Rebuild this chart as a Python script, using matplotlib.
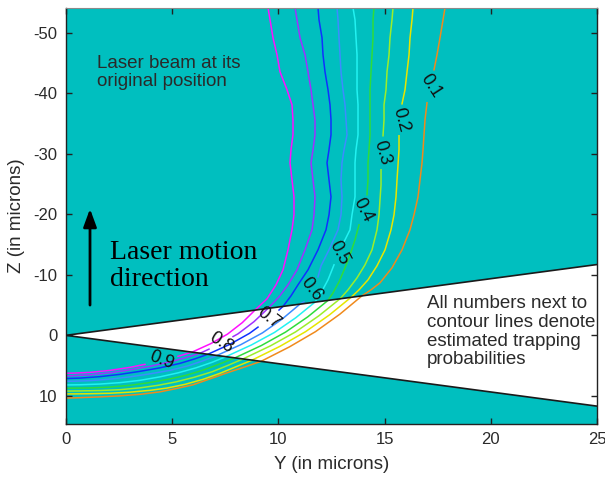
import numpy as np
import matplotlib
matplotlib.use("Agg")
import matplotlib.pyplot as plt
from matplotlib.patches import Polygon

nan = np.nan

# ---------------- data (Y, Z in microns) ----------------
levels = [0.1, 0.2, 0.3, 0.4, 0.5, 0.6, 0.7, 0.8, 0.9]

c01_y = [17.844, 17.750, 17.608, 17.467, 17.326, nan, 16.996, 16.902, 16.855, 16.808, 16.761, 16.667, 16.573,
         16.384, 16.196, 15.819, 15.348, 14.783, 14.360, 13.936, 12.891, 11.747, 10.513, 9.181, 8.427, 7.580,
         6.780, 5.979, 5.132, 4.426, 3.484, 2.542, 1.601, 0.659, 0.0]
c01_z = [-54.13, -52.15, -49.17, -46.36, -43.88, nan, -38.43, -35.62, -33.14, -30.66, -28.51, -25.70, -22.89,
         -19.92, -17.44, -14.13, -11.16, -8.68, -7.52, -6.53, -3.49, -0.61, 1.92, 4.30, 5.21, 6.20,
         7.19, 8.18, 8.84, 9.34, 9.75, 10.00, 10.17, 10.30, 10.38]

c02_y = [16.337, 16.290, 16.196, 16.149, 16.055, 15.960, 15.819, nan, 15.678, 15.678, 15.631, 15.584, 15.537,
         15.443, 15.301, 15.019, 14.642, 14.218, 13.795, 13.418, 12.397, 11.276, 10.066, 8.757, 8.051, 7.250,
         6.450, 5.603, 4.755, 3.955, 3.013, 2.072, 1.130, 0.0]
c02_z = [-54.13, -52.15, -49.17, -46.36, -43.55, -40.58, -38.26, nan, -32.98, -30.66, -28.18, -25.70, -22.89,
         -19.92, -17.44, -14.13, -11.49, -9.17, -7.52, -6.28, -3.36, -0.60, 1.83, 4.10, 5.12, 6.28,
         7.27, 8.10, 8.71, 9.09, 9.39, 9.57, 9.65, 9.69]

c03_y = [15.395, 15.348, 15.254, 15.207, 15.113, 15.066, 14.972, 14.972, 14.925, nan, 14.831, 14.831, 14.783,
         14.736, 14.642, 14.407, 14.077, 13.701, 13.277, 12.900, 11.902, 10.805, 9.619, 8.333, 7.627, 6.874,
         6.026, 5.179, 4.331, 3.484, 2.542, 1.601, 0.659, 0.0]
c03_z = [-54.13, -52.15, -49.17, -46.36, -43.55, -40.58, -38.10, -35.62, -32.98, nan, -27.36, -24.88, -22.40,
         -19.92, -17.44, -14.13, -11.65, -9.50, -7.52, -6.03, -3.22, -0.56, 1.75, 3.90, 4.96, 6.03,
         6.94, 7.69, 8.26, 8.68, 8.98, 9.12, 9.19, 9.21]

c04_y = [14.501, 14.454, 14.454, 14.407, 14.360, 14.313, 14.313, 14.313, 14.313, 14.266, 14.218, 14.218, 14.171,
         nan, 13.795, 13.606, 13.371, 13.136, 12.853, 12.571, 12.335, 11.384, 10.334, 9.195, 7.957, 7.250,
         6.497, 5.650, 4.802, 3.955, 3.013, 2.072, 1.130, 0.0]
c04_z = [-54.13, -52.15, -49.17, -46.36, -43.55, -40.58, -38.10, -35.62, -33.14, -30.66, -28.51, -25.70, -23.22,
         nan, -18.26, -15.79, -13.31, -11.16, -8.84, -7.02, -5.77, -3.06, -0.53, 1.69, 3.72, 4.71,
         5.70, 6.61, 7.27, 7.80, 8.26, 8.55, 8.69, 8.74]

c05_y = [13.512, 13.606, 13.653, 13.701, 13.701, 13.701, 13.748, 13.748, 13.748, 13.653, 13.606, 13.606, 13.606,
         13.465, 13.371, 13.089, nan, 12.618, 12.335, 12.006, 11.723, 10.819, 9.816, 8.724, 7.533, 6.874,
         6.121, 5.273, 4.426, 3.484, 2.542, 1.601, 0.659, 0.0]
c05_z = [-54.13, -52.15, -49.17, -46.36, -43.55, -40.58, -38.10, -35.62, -33.14, -30.66, -28.51, -25.70, -22.89,
         -19.92, -17.44, -15.45, nan, -11.65, -9.17, -7.02, -5.49, -2.91, -0.48, 1.60, 3.52, 4.46,
         5.37, 6.20, 6.86, 7.44, 7.82, 8.05, 8.17, 8.20]

c06_y = [12.759, 12.806, 12.853, 12.900, 12.947, 13.041, 13.136, 13.183, 13.230, 13.089, 12.994, 12.947, 12.994,
         12.947, 12.806, 12.382, 12.006, 11.864, nan, 11.205, 11.017, 10.184, 9.251, 8.230, 7.109, 6.450,
         5.744, 4.896, 3.955, 3.013, 2.072, 1.130, 0.424, 0.0]
c06_z = [-54.13, -52.15, -49.17, -46.36, -43.55, -40.58, -38.10, -35.62, -33.14, -30.66, -28.51, -25.70, -22.89,
         -19.92, -17.44, -14.13, -11.49, -9.67, nan, -5.54, -5.16, -2.71, -0.41, 1.54, 3.32, 4.21,
         5.04, 5.79, 6.36, 6.86, 7.24, 7.49, 7.57, 7.60]

c07_y = [11.864, 11.911, 12.053, 12.100, 12.194, 12.335, 12.429, 12.476, 12.476, 12.382, 12.288, 12.382, 12.476,
         12.382, 12.241, 11.864, 11.394, 10.923, 10.593, 10.217, 10.028, nan, 9.040, 8.639, 7.712, 6.685,
         6.073, 5.367, 4.426, 3.484, 2.542, 1.601, 0.659, 0.0]
c07_z = [-54.13, -52.15, -49.17, -46.36, -43.55, -40.58, -38.10, -35.62, -33.14, -30.66, -28.51, -25.70, -22.89,
         -19.92, -17.44, -14.13, -10.83, -8.35, -6.53, -4.78, -4.18, nan, -1.36, -0.33, 1.49, 3.12,
         3.88, 4.63, 5.37, 5.95, 6.45, 6.83, 7.07, 7.14]

c08_y = [10.782, 10.876, 11.017, 11.252, 11.394, 11.535, 11.629, 11.723, 11.723, 11.629, 11.535, 11.629, 11.723,
         11.676, 11.582, 11.252, 10.876, 10.452, 10.028, 9.510, 8.851, 8.098, 7.863, nan, 6.733, 6.309,
         5.603, 4.896, 3.955, 3.013, 2.072, 1.130, 0.424, 0.0]
c08_z = [-54.13, -52.15, -49.17, -46.36, -43.55, -40.58, -38.10, -35.62, -33.14, -30.66, -28.51, -25.70, -22.89,
         -19.92, -17.44, -14.13, -10.83, -8.35, -6.36, -4.45, -2.26, -0.25, 0.21, nan, 2.28, 2.96,
         3.72, 4.38, 5.12, 5.70, 6.20, 6.53, 6.66, 6.69]

c09_y = [9.510, 9.605, 9.746, 9.934, 10.075, 10.405, 10.640, 10.687, 10.687, 10.593, 10.546, 10.640, 10.734,
         10.734, 10.640, 10.452, 10.217, 9.887, 9.463, 8.898, 8.300, 7.604, 6.817, 5.932, 5.273, nan,
         3.719, 3.013, 2.072, 1.130, 0.424, 0.0]
c09_z = [-54.13, -52.15, -49.17, -46.36, -43.55, -40.58, -38.10, -35.62, -33.14, -30.66, -28.51, -25.70, -22.89,
         -19.92, -17.44, -14.13, -10.83, -8.35, -6.03, -4.17, -2.10, -0.20, 1.37, 2.78, 3.47, nan,
         4.79, 5.29, 5.79, 6.12, 6.23, 6.26]

contour_y = [c01_y, c02_y, c03_y, c04_y, c05_y, c06_y, c07_y, c08_y, c09_y]
contour_z = [c01_z, c02_z, c03_z, c04_z, c05_z, c06_z, c07_z, c08_z, c09_z]

# laser cone (wedge) outline
wedge_y = [0.0, 25.0, 25.0]
wedge_z = [0.0, -11.7, 11.7]

x_ticks = [0, 5, 10, 15, 20, 25]
z_ticks = [-50, -40, -30, -20, -10, 0, 10]

# ---------------- styles ----------------
teal = '#00BFBF'
line_colors = ['#f08a1c', '#e6e600', '#9cee2a', '#2fdc3a', '#22f2f2',
               '#3c8cff', '#1030ff', '#a030ff', '#ff10ff']
label_rot = [-57, -75, -74, -63, -62, -53, -38, -32, -21]
txt_color = '#2a2a2a'

plt.rcParams['font.family'] = ['Liberation Sans', 'DejaVu Sans']
plt.rcParams['axes.unicode_minus'] = False

fig = plt.figure(figsize=(6.05, 4.8), dpi=100)
ax = fig.add_axes([0.1091, 0.1167, 0.8777, 0.8667])
ax.set_facecolor(teal)

# wedge
ax.add_patch(Polygon(np.column_stack([wedge_y, wedge_z]), closed=True,
                     facecolor='white', edgecolor='none', zorder=1))
ax.plot([wedge_y[1], wedge_y[0], wedge_y[2]], [wedge_z[1], wedge_z[0], wedge_z[2]],
        color='#1a1a1a', lw=1.2, zorder=3, solid_capstyle='butt')

# contour lines + inline labels
for lev, ys, zs, col, rot in zip(levels, contour_y, contour_z, line_colors, label_rot):
    ys = np.asarray(ys, float)
    zs = np.asarray(zs, float)
    ax.plot(ys, zs, color=col, lw=1.1, zorder=2)
    k = int(np.where(np.isnan(ys))[0][0])
    ly = 0.5 * (ys[k - 1] + ys[k + 1])
    lz = 0.5 * (zs[k - 1] + zs[k + 1])
    ax.text(ly, lz, f'{lev:.1f}', rotation=rot, rotation_mode='anchor',
            ha='center', va='center', fontsize=13, color='#111111', zorder=4)

ax.set_xlim(0, 25)
ax.set_ylim(14.65, -54.1)
ax.set_xticks(x_ticks)
ax.set_yticks(z_ticks)
ax.tick_params(direction='in', length=4, width=1.0, top=True, right=True,
               labelsize=12, labelcolor=txt_color, color='#222222', pad=6)
for s in ['left', 'bottom', 'right']:
    ax.spines[s].set_color('#222222')
    ax.spines[s].set_linewidth(1.0)
ax.spines['top'].set_color('#8a8a8a')

ax.set_xlabel('Y (in microns)', fontsize=13.5, color=txt_color, labelpad=6)
ax.set_ylabel('Z (in microns)', fontsize=13.5, color=txt_color, labelpad=6)

# annotations
ax.text(1.46, -46.4, 'Laser beam at its\noriginal position', fontsize=13.5,
        color=txt_color, ha='left', va='top', linespacing=1.12, zorder=5)
ax.text(17.0, -6.6, 'All numbers next to\ncontour lines denote\nestimated trapping\nprobabilities',
        fontsize=13.5, color=txt_color, ha='left', va='top', linespacing=1.12, zorder=5)
ax.text(2.07, -15.7, 'Laser motion\ndirection', fontsize=20, family='Liberation Serif',
        color='black', ha='left', va='top', linespacing=1.08, zorder=5)
ax.annotate('', xy=(1.13, -20.9), xytext=(1.13, -5.0),
            arrowprops=dict(arrowstyle='-|>,head_length=0.6,head_width=0.22',
                            mutation_scale=18, lw=2, color='black', shrinkA=0, shrinkB=0),
            zorder=5)

fig.savefig('out.png', dpi=100)
